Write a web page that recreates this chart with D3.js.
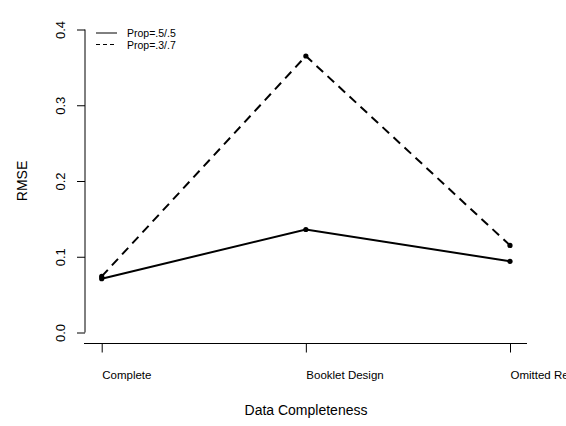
<!DOCTYPE html>
<html>
<head>
<meta charset="utf-8">
<script src="https://cdn.jsdelivr.net/npm/d3@7"></script>
<style>
  html, body { margin: 0; padding: 0; background: #fff; }
  svg { display: block; font-family: "Liberation Sans", Arial, Helvetica, sans-serif; }
</style>
</head>
<body>
<svg id="chart" width="566" height="426"></svg>
<script>
// RMSE by data completeness condition, for two group proportions
const categories = ["Complete", "Booklet Design", "Omitted Responses"];
const propEven = [0.071, 0.136, 0.094];   // Prop=.5/.5
const propUneven = [0.074, 0.365, 0.115]; // Prop=.3/.7
const yTicks = [0.0, 0.1, 0.2, 0.3, 0.4];
const seriesNames = ["Prop=.5/.5", "Prop=.3/.7"];

const svg = d3.select("#chart");

const x = d3.scalePoint().domain(categories).range([101.7, 510]);
const y = d3.scaleLinear().domain([0, 0.4]).range([332.5, 29.5]);

// y axis (line spans the tick range, labels rotated)
const yAxis = svg.append("g").attr("transform", "translate(85,0)");
yAxis.call(d3.axisLeft(y).tickValues(yTicks).tickSize(8).tickFormat(d3.format(".1f")));
yAxis.select(".domain").remove();
yAxis.append("line")
  .attr("x1", 0).attr("x2", 0)
  .attr("y1", y(0)).attr("y2", y(0.4))
  .attr("stroke", "#000");
yAxis.selectAll(".tick line").attr("stroke", "#000");
yAxis.selectAll(".tick text")
  .attr("fill", "#000")
  .attr("font-size", 13)
  .attr("text-anchor", "middle")
  .attr("x", 0).attr("dy", 0)
  .attr("transform", "translate(-25,0) rotate(-90)")
  .attr("dominant-baseline", "central");

// x axis
const xAxis = svg.append("g").attr("transform", "translate(0,343.5)");
xAxis.call(d3.axisBottom(x).tickSize(9).tickSizeOuter(0));
xAxis.select(".domain").remove();
xAxis.append("line")
  .attr("x1", 84).attr("x2", 527)
  .attr("y1", 0).attr("y2", 0)
  .attr("stroke", "#000");
xAxis.selectAll(".tick line").attr("stroke", "#000");
xAxis.selectAll(".tick text")
  .attr("fill", "#000")
  .attr("font-size", 11.5)
  .attr("text-anchor", "start")
  .attr("y", 31)
  .attr("dy", "0.35em");

// axis titles
svg.append("text")
  .attr("x", 306).attr("y", 410)
  .attr("text-anchor", "middle").attr("dominant-baseline", "central")
  .attr("font-size", 14)
  .text("Data Completeness");
svg.append("text")
  .attr("transform", "translate(22,181) rotate(-90)")
  .attr("text-anchor", "middle").attr("dominant-baseline", "central")
  .attr("font-size", 14)
  .text("RMSE");

// series lines with point markers
const line = d3.line().x((d, i) => x(categories[i])).y(d => y(d));
const series = [
  { name: seriesNames[0], values: propEven, dash: null },
  { name: seriesNames[1], values: propUneven, dash: "9,6" }
];

series.forEach(s => {
  svg.append("path")
    .datum(s.values)
    .attr("d", line)
    .attr("fill", "none")
    .attr("stroke", "#000")
    .attr("stroke-width", 2)
    .attr("stroke-dasharray", s.dash);
  svg.selectAll(null)
    .data(s.values)
    .enter().append("circle")
    .attr("cx", (d, i) => x(categories[i]))
    .attr("cy", d => y(d))
    .attr("r", 2.6)
    .attr("fill", "#000");
});

// legend
const legend = svg.append("g");
series.forEach((s, i) => {
  const ly = 33 + i * 11.5;
  legend.append("line")
    .attr("x1", 96).attr("x2", 117)
    .attr("y1", ly).attr("y2", ly)
    .attr("stroke", "#000").attr("stroke-width", 1)
    .attr("stroke-dasharray", s.dash ? "4,3" : null);
  legend.append("text")
    .attr("x", 127).attr("y", ly)
    .attr("dominant-baseline", "central")
    .attr("font-size", 10.5)
    .text(s.name);
});
</script>
</body>
</html>
